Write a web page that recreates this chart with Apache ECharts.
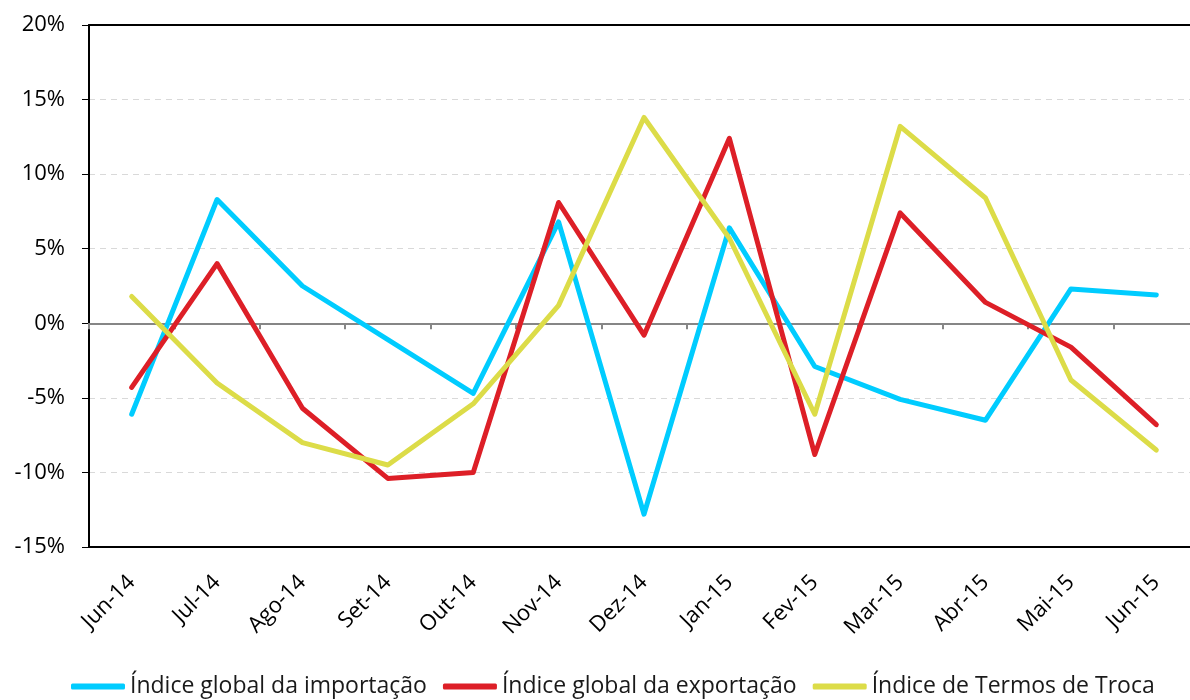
<!DOCTYPE html>
<html>
	<head>
		<meta charset="UTF-8">
		<title>Índices de comércio</title>
		<style>
			html, body { margin: 0; padding: 0; background: #fff; overflow: hidden; }
			#chart { width: 1210px; height: 700px; }
		</style>
	</head>
	<body>
		<div id="chart"></div>
	</body>
	<script src="https://cdn.jsdelivr.net/npm/echarts@6/dist/echarts.min.js" type="text/javascript" charset="utf-8"></script>
	<script type="text/javascript">
		// meses (eixo X)
		var meses = ['Jun-14', 'Jul-14', 'Ago-14', 'Set-14', 'Out-14', 'Nov-14', 'Dez-14',
			'Jan-15', 'Fev-15', 'Mar-15', 'Abr-15', 'Mai-15', 'Jun-15'];

		// variações em %
		var importacao = [-6.1, 8.3, 2.5, -1.1, -4.7, 6.8, -12.8, 6.4, -2.9, -5.1, -6.5, 2.3, 1.9];
		var exportacao = [-4.3, 4.0, -5.7, -10.4, -10.0, 8.1, -0.8, 12.4, -8.8, 7.4, 1.4, -1.6, -6.8];
		var termosTroca = [1.8, -4.0, -8.0, -9.5, -5.4, 1.2, 13.8, 5.7, -6.1, 13.2, 8.4, -3.8, -8.5];

		var nomes = ['Índice global da importação', 'Índice global da exportação', 'Índice de Termos de Troca'];
		var cores = ['#00CCFF', '#DD1F27', '#DCDC48'];

		var fonte = '"Open Sans", "Noto Sans", sans-serif';

		var chart = echarts.init(document.getElementById('chart'));

		function serie(i, dados) {
			return {
				name: nomes[i],
				type: 'line',
				xAxisIndex: 0,
				data: dados,
				symbol: 'none',
				lineStyle: { color: cores[i], width: 5, cap: 'round', join: 'round' },
				itemStyle: { color: cores[i] },
				z: 3
			};
		}

		var option = {
			animation: false,
			backgroundColor: '#fff',
			grid: { left: 89, top: 25, bottom: 153, width: 1110 },
			legend: {
				bottom: -3,
				left: 66,
				icon: 'roundRect',
				itemWidth: 54,
				itemHeight: 6,
				itemGap: 16,
				textStyle: { fontFamily: fonte, fontSize: 23, color: '#1a1a1a' },
				data: nomes
			},
			xAxis: [{
				type: 'category',
				data: meses,
				boundaryGap: true,
				axisLine: { onZero: true, lineStyle: { color: '#868686', width: 2 } },
				axisTick: { show: true, length: 6, lineStyle: { color: '#868686', width: 2 } },
				axisLabel: { show: false },
				z: 2
			}, {
				type: 'category',
				data: meses,
				position: 'bottom',
				boundaryGap: true,
				axisLine: { onZero: false, lineStyle: { color: '#000', width: 2 } },
				axisTick: { show: false },
				axisLabel: {
					rotate: 45,
					margin: 32,
					fontFamily: fonte,
					fontSize: 22,
					color: '#000'
				}
			}, {
				type: 'category',
				data: meses,
				position: 'top',
				axisLine: { onZero: false, lineStyle: { color: '#000', width: 2 } },
				axisTick: { show: false },
				axisLabel: { show: false }
			}],
			yAxis: {
				type: 'value',
				min: -15,
				max: 20,
				interval: 5,
				axisLine: { show: true, lineStyle: { color: '#000', width: 2 } },
				axisTick: { show: true, length: 7, lineStyle: { color: '#000', width: 1 } },
				axisLabel: {
					formatter: '{value}%',
					margin: 24,
					fontFamily: fonte,
					fontSize: 22,
					color: '#000'
				},
				splitLine: {
					show: true,
					lineStyle: {
						type: [6, 5],
						width: 1,
						color: ['transparent', '#d9d9d9', '#d9d9d9', '#d9d9d9', '#d9d9d9', '#d9d9d9', '#d9d9d9', 'transparent']
					}
				}
			},
			series: [
				serie(0, importacao),
				serie(1, exportacao),
				serie(2, termosTroca)
			]
		};

		chart.setOption(option);
	</script>
</html>
